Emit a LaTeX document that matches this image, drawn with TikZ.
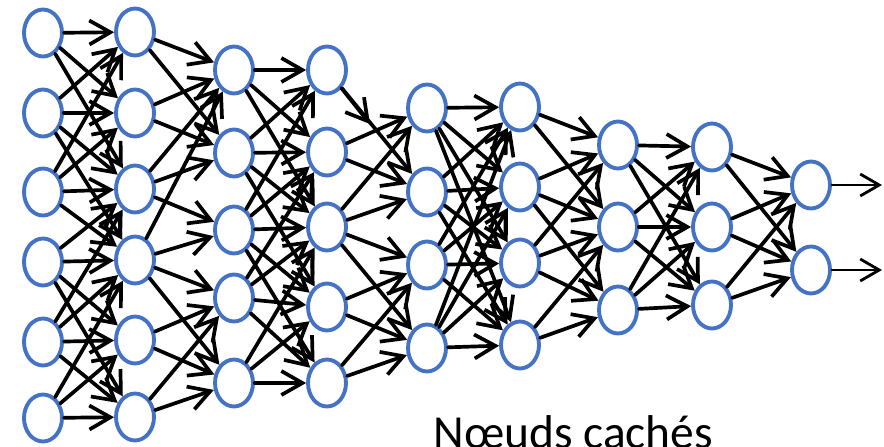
\documentclass[tikz,border=0pt]{standalone}
\usepackage{fontspec}
\setmainfont{Carlito}
\usetikzlibrary{arrows.meta,shapes.geometric}
\definecolor{nodeblue}{HTML}{4472C4}

\begin{document}
\begin{tikzpicture}[x=0.02cm,y=-0.02cm,line cap=round,line join=round,
  neuron/.style={ellipse,draw=nodeblue,line width=2.2pt,fill=white,
    minimum width=0.76cm,minimum height=0.94cm,inner sep=0pt},
  link/.style={line width=2.1pt,-{Straight Barb[length=4.2mm,width=4.8mm]}},
  outlink/.style={line width=1.6pt,-{Straight Barb[length=3.8mm,width=4.4mm]}}]
  \useasboundingbox (0,0) rectangle (884,446);
  % layers of neurons
  \foreach \x/\ys [count=\l] in {43/{33,113,192,262,342,418},
      135/{32,113,189,260,340,417},
      234/{70,153,230,298,383},
      327/{70,152,227,307,383},
      427/{108,192,265,348},
      520/{107,187,263,345},
      618/{145,227,310},
      712/{147,227,305},
      811/{185,270}}
    \foreach \y [count=\k] in \ys
      \node[neuron] (n\l-\k) at (\x,\y) {};
  % links between layers
  \foreach \i/\js in {1/{1,2,3},2/{1,2,3,4},3/{1,2,3,4},4/{3,4,5,6},5/{3,4,5,6},6/{4,5,6}}
    \foreach \j in \js \draw[link] (n1-\i) -- (n2-\j);
  \foreach \i/\js in {1/{1,2},2/{1,2},3/{1,2,3},4/{1,3,4,5},5/{4,5},6/{4,5}}
    \foreach \j in \js \draw[link] (n2-\i) -- (n3-\j);
  \foreach \i/\js in {1/{1,2,3},2/{1,2,3,4},3/{1,2,3,4,5},4/{2,3,4,5},5/{3,4,5}}
    \foreach \j in \js \draw[link] (n3-\i) -- (n4-\j);
  \foreach \i/\js in {1/{2},2/{1,2},3/{1,2,3,4},4/{3,4},5/{3,4}}
    \foreach \j in \js \draw[link] (n4-\i) -- (n5-\j);
  \coordinate (stub) at (370,124);
  \draw[link] (n4-1) -- (stub);
  \foreach \i in {1,...,4}
    \foreach \j in {1,...,4} \draw[link] (n5-\i) -- (n6-\j);
  \foreach \i/\js in {1/{1,2},2/{1,2,3},3/{1,2,3},4/{2,3}}
    \foreach \j in \js \draw[link] (n6-\i) -- (n7-\j);
  \foreach \i in {1,2,3}
    \foreach \j in {1,2,3} \draw[link] (n7-\i) -- (n8-\j);
  \foreach \i in {1,2,3}
    \foreach \j in {1,2} \draw[link] (n8-\i) -- (n9-\j);
  % outputs
  \coordinate (out1) at (882,185);
  \coordinate (out2) at (882,270);
  \draw[outlink] (n9-1) -- (out1);
  \draw[outlink] (n9-2) -- (out2);
  \node[anchor=base west,inner sep=0pt,font=\fontsize{27}{32}\selectfont] (hidden) at (433,448) {Nœuds cachés};
\end{tikzpicture}
\end{document}
